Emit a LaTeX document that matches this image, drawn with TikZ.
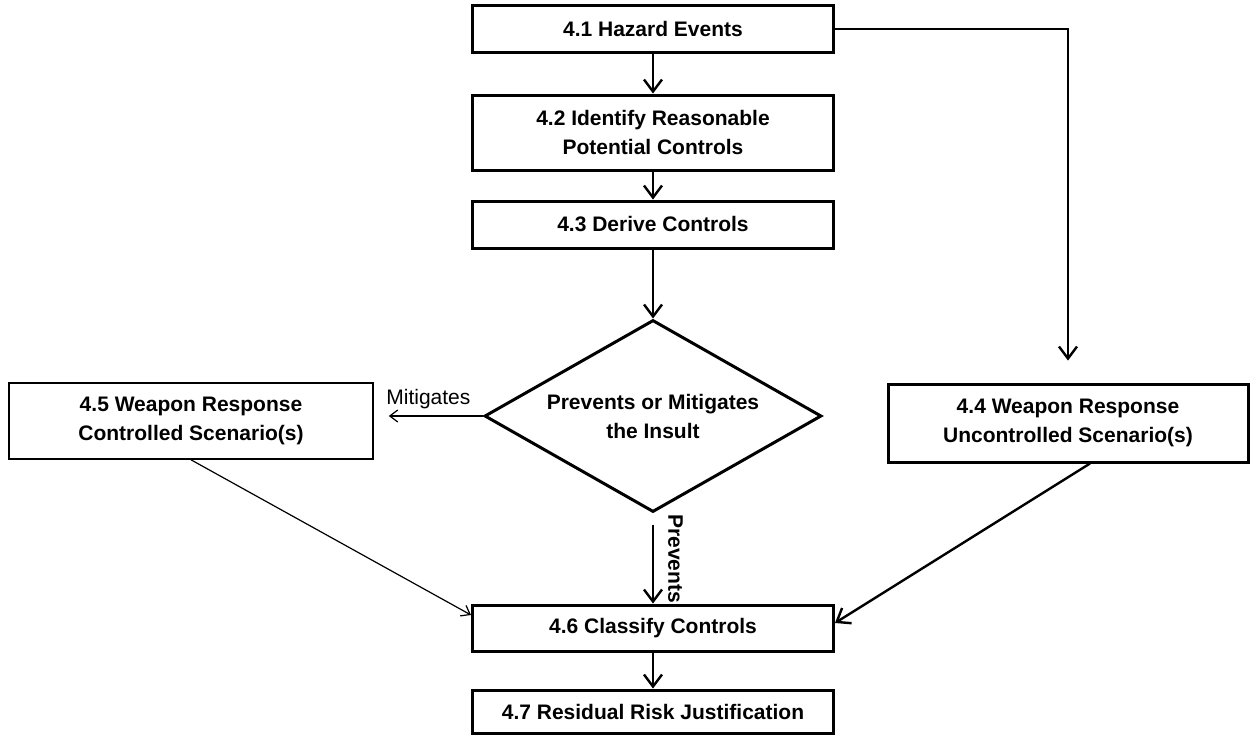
\documentclass[tikz,border=0pt]{standalone}
\usepackage{fontspec}
\setmainfont{Liberation Sans}
\usepackage{tikz}
\usetikzlibrary{shapes, arrows.meta, positioning, calc}

\begin{document}
\begin{tikzpicture}[x=0.5pt, y=-0.5pt,
		font=\fontsize{10.5}{14.5}\selectfont\bfseries,
		>={Straight Barb[length=6pt, width=9pt]},
		box/.style={draw, line width=1.5pt, align=center, minimum width=180.5pt, inner sep=2pt},
		thinbox/.style={draw, line width=0.8pt, align=center, minimum width=182pt, inner sep=2pt},
		flow/.style={->, line width=1.2pt},
		thinflow/.style={-{Straight Barb[length=4pt, width=6pt]}, line width=0.6pt}]
		\useasboundingbox (0,0) rectangle (1250,735);

		\node[box, minimum height=23.5pt] (Hazard) at (653,29) {4.1 Hazard Events};
		\node[box, minimum height=37.5pt] (Identify) at (653,132.5) {4.2 Identify Reasonable\\
			Potential Controls};
		\node[box, minimum height=23.5pt] (Derive) at (653,224.5) {4.3 Derive Controls};
		\node[draw, diamond, aspect=1.75, line width=1.5pt, align=center, inner sep=0pt, minimum width=168.5pt, minimum height=96pt] (Insult) at (653,416) {Prevents or Mitigates\\
			the Insult};
		\node[box, minimum width=180pt, minimum height=39pt] (Uncontrolled) at (1068,423) {4.4 Weapon Response\\
			Uncontrolled Scenario(s)};
		\node[thinbox, minimum height=38pt] (Controlled) at (191,421) {4.5 Weapon Response\\
			Controlled Scenario(s)};
		\node[box, minimum height=23pt] (Classify) at (653,628) {4.6 Classify Controls};
		\node[box, minimum height=21.5pt] (Residual) at (653,711.5) {4.7 Residual Risk Justification};

		\draw[flow] (Hazard) to (Identify);
		\draw[flow] (Identify) to (Derive);
		\draw[flow] (Derive) to (Insult);
		\draw[flow, shorten >=11pt] (Hazard.east) -| (Uncontrolled.north);
		\draw[thinflow, shorten >=7.5pt] (Insult.west) to node[above, font=\fontsize{10.5}{12}\selectfont] {Mitigates} (Insult.west -| Controlled.east);
		\draw[flow, shorten <=5.5pt] (Insult.south) to node[midway, sloped, above=6pt, inner sep=1pt] {Prevents} (Classify.north);
		\draw[thinflow] (Controlled.south) to ([yshift=6.5pt]Classify.west);
		\draw[flow] ([xshift=11pt]Uncontrolled.south) to ([yshift=2.5pt]Classify.east);
		\draw[flow] (Classify) to (Residual);
	\end{tikzpicture}
\end{document}
